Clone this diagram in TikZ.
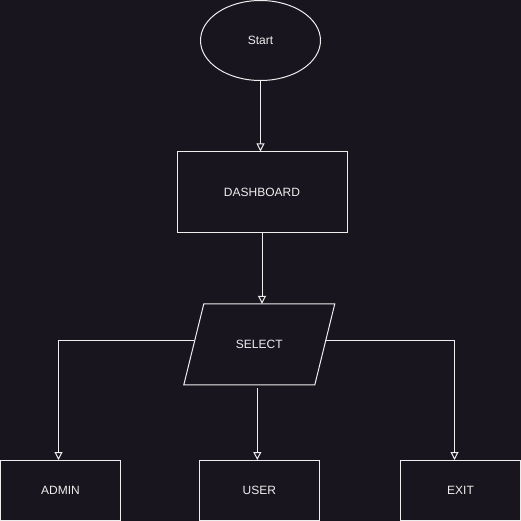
\documentclass[tikz,border=0pt]{standalone}
\usepackage{fontspec}
\setmainfont{Liberation Sans}
\usetikzlibrary{arrows.meta,shapes.geometric}
\definecolor{darkbg}{RGB}{24, 21, 30}
\definecolor{lineish}{RGB}{238, 238, 238}
\tikzset{
  flownode/.style = {align=center, inner sep=0pt, text centered,
    draw=lineish, text=lineish, line width=1pt, font=\fontsize{12}{14}\selectfont},
  fl_start/.style = {flownode, ellipse, minimum width=120pt,
    minimum height=80pt},% start node
  fl_box/.style = {flownode, rectangle, minimum width=170pt,
    minimum height=80pt},% process
  fl_io/.style = {flownode, draw=none, rectangle, minimum width=130pt,
    minimum height=80pt},% select, outline drawn below
  fl_end/.style = {flownode, rectangle, minimum width=120pt,
    minimum height=60pt},% choices
  flowline/.style = {draw=lineish, line width=1pt},
  flowarrow/.style = {flowline, -{Triangle[open, length=8pt, width=8pt]}},
}
\begin{document}
\begin{tikzpicture}[x=1pt, y=-1pt]
\fill [darkbg] (0,0) rectangle (521,521);
\useasboundingbox (0,0) rectangle (521,521);
\node [fl_start] (start) at (260.5,40.5) {Start};
\node [fl_box] (dash) at (262,192) {DASHBOARD};
\node [fl_io] (sel) at (259.3,344.3) {SELECT};
\draw [flowline] ([xshift=10pt]sel.north west) -- ([xshift=10pt]sel.north east)
  -- ([xshift=-10pt]sel.south east) -- ([xshift=-10pt]sel.south west) -- cycle;
\node [fl_end] (admin) at (60.5,490.5) {ADMIN};
\node [fl_end] (user) at (259.3,490.5) {USER};
\node [fl_end] (exit) at (460.5,490.5) {EXIT};
% connectors
\draw [flowarrow] (start.south) -- (start.south |- dash.north);
\draw [flowarrow] (dash.south) -- (dash.south |- sel.north);
\draw [flowarrow] ([yshift=3.5pt]sel.west) -| ([xshift=-2pt]admin.north);
\draw [flowarrow] ([yshift=3.5pt]sel.east) -| ([xshift=-6pt]exit.north);
\draw [flowarrow] ([xshift=-2pt, yshift=-3pt]sel.south) -- ([xshift=-2pt]sel.south |- user.north);
\end{tikzpicture}
\end{document}
